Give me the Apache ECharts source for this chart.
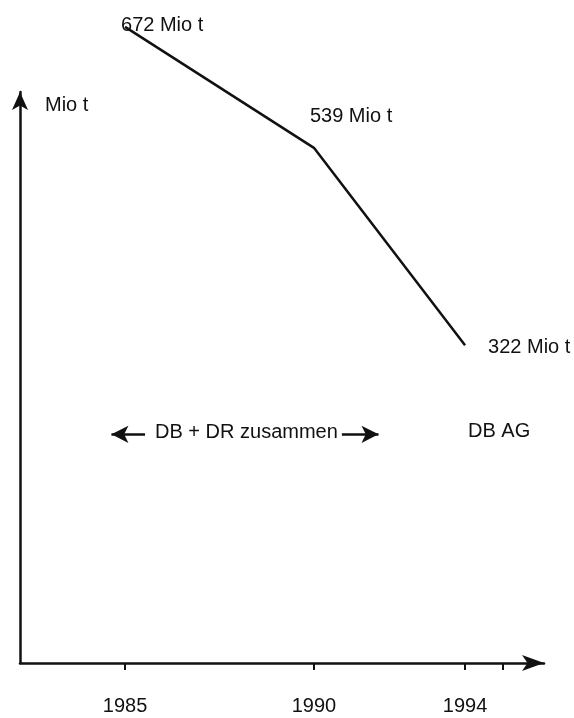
<!DOCTYPE html>
<html>
<head>
<meta charset="utf-8">
<script src="https://cdn.jsdelivr.net/npm/echarts@6/dist/echarts.min.js"></script>
<style>
  html, body { margin: 0; padding: 0; background: #fff; }
  #main { width: 574px; height: 718px; }
</style>
</head>
<body>
<div id="main"></div>
<script>
var chartDom = document.getElementById('main');
var myChart = echarts.init(chartDom);
var option;

// data
let years = [1985, 1990, 1994];
let tonnage = [672, 539, 322];          // Mio t
let tickYears = [1985, 1990, 1994, 1995];
let labelYears = [1985, 1990, 1994];
let unit = 'Mio t';

let ink = '#111';
let font = 'Liberation Sans';

// per point label offsets (label sits next to each point)
let labelOffsets = [[-4, -1], [-4, -31], [23, 2]];

let points = [];
for (var i = 0; i < years.length; i++) {
  points.push({
    value: [years[i], tonnage[i]],
    label: { offset: labelOffsets[i] }
  });
}

let annotY = 224;

option = {
  animation: false,
  backgroundColor: '#fff',
  grid: { left: 20, right: 30, top: 92, bottom: 55 },
  xAxis: {
    type: 'value',
    min: 1982.22,
    max: 1996.09,
    splitLine: { show: false },
    axisLine: {
      onZero: false,
      lineStyle: { color: ink, width: 2.5 },
      symbol: ['none', 'arrow'],
      symbolSize: [12, 22]
    },
    axisTick: {
      show: true,
      customValues: tickYears,
      length: 7,
      lineStyle: { color: ink, width: 2 }
    },
    axisLabel: {
      customValues: labelYears,
      formatter: function (v) { return String(v); },
      margin: 33,
      color: ink,
      fontSize: 20,
      fontFamily: font
    }
  },
  yAxis: {
    type: 'value',
    min: -27.4,
    max: 600.4,
    splitLine: { show: false },
    axisTick: { show: false },
    axisLabel: { show: false },
    axisLine: {
      show: true,
      onZero: false,
      lineStyle: { color: ink, width: 2.5 },
      symbol: ['none', 'arrow'],
      symbolSize: [12, 18]
    }
  },
  graphic: [
    {
      type: 'text', left: 45, top: 95,
      style: { text: unit, font: '20px ' + font, fill: ink }
    },
    {
      type: 'text', left: 155, top: 422,
      style: { text: 'DB + DR zusammen', font: '20px ' + font, fill: ink }
    },
    {
      type: 'text', left: 468, top: 421,
      style: { text: 'DB AG', font: '20px ' + font, fill: ink }
    }
  ],
  series: [
    {
      type: 'line',
      data: points,
      clip: false,
      symbol: 'circle',
      symbolSize: 0,
      lineStyle: { color: ink, width: 2.5 },
      itemStyle: { color: ink },
      label: {
        show: true,
        position: 'right',
        distance: 0,
        formatter: function (p) { return p.value[1] + ' ' + unit; },
        color: ink,
        fontSize: 20,
        fontFamily: font
      },
      markLine: {
        silent: true,
        symbol: ['none', 'arrow'],
        symbolSize: [13, 17],
        label: { show: false },
        lineStyle: { color: ink, width: 2.5, type: 'solid' },
        data: [
          [{ coord: [1985.53, annotY] }, { coord: [1984.64, annotY] }],
          [{ coord: [1990.74, annotY] }, { coord: [1991.71, annotY] }]
        ]
      }
    }
  ]
};

option && myChart.setOption(option);
</script>
</body>
</html>
